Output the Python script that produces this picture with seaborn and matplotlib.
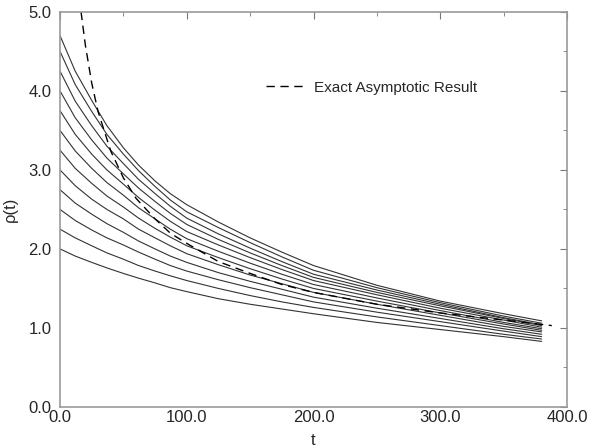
import numpy as np
import pandas as pd
import matplotlib
matplotlib.use('Agg')
import matplotlib.pyplot as plt
import seaborn as sns
from matplotlib.ticker import MultipleLocator, FormatStrFormatter

t_grid = [0, 12, 25, 37, 50, 62, 75, 87, 100, 125, 150, 175, 200, 250, 300, 350, 380]

# one list per solid curve (bottom to top), rho(t)
rho_1 = [2.00, 1.91, 1.83, 1.76, 1.69, 1.63, 1.57, 1.51, 1.46, 1.37, 1.30, 1.24, 1.18, 1.07, 0.98, 0.89, 0.83]
rho_2 = [2.25, 2.14, 2.04, 1.95, 1.87, 1.79, 1.72, 1.66, 1.60, 1.50, 1.41, 1.33, 1.26, 1.14, 1.03, 0.92, 0.86]
rho_3 = [2.50, 2.36, 2.24, 2.14, 2.05, 1.96, 1.87, 1.79, 1.72, 1.61, 1.51, 1.42, 1.33, 1.20, 1.08, 0.96, 0.89]
rho_4 = [2.75, 2.58, 2.44, 2.32, 2.21, 2.10, 2.00, 1.91, 1.83, 1.70, 1.59, 1.49, 1.39, 1.25, 1.12, 0.99, 0.92]
rho_5 = [3.00, 2.80, 2.63, 2.50, 2.38, 2.25, 2.14, 2.04, 1.94, 1.80, 1.67, 1.56, 1.45, 1.30, 1.16, 1.02, 0.95]
rho_6 = [3.25, 3.02, 2.83, 2.67, 2.53, 2.39, 2.26, 2.15, 2.04, 1.89, 1.75, 1.62, 1.50, 1.34, 1.19, 1.05, 0.97]
rho_7 = [3.50, 3.24, 3.02, 2.84, 2.68, 2.52, 2.38, 2.25, 2.13, 1.97, 1.82, 1.68, 1.55, 1.38, 1.22, 1.07, 0.99]
rho_8 = [3.75, 3.45, 3.20, 3.00, 2.82, 2.65, 2.49, 2.35, 2.22, 2.05, 1.89, 1.74, 1.60, 1.42, 1.25, 1.10, 1.01]
rho_9 = [4.00, 3.66, 3.38, 3.15, 2.95, 2.77, 2.60, 2.45, 2.31, 2.12, 1.95, 1.79, 1.64, 1.45, 1.28, 1.12, 1.03]
rho_10 = [4.25, 3.87, 3.56, 3.30, 3.08, 2.88, 2.70, 2.54, 2.39, 2.19, 2.01, 1.84, 1.68, 1.48, 1.30, 1.13, 1.04]
rho_11 = [4.50, 4.08, 3.74, 3.45, 3.20, 2.99, 2.79, 2.62, 2.47, 2.27, 2.08, 1.90, 1.73, 1.51, 1.32, 1.15, 1.06]
rho_12 = [4.70, 4.25, 3.88, 3.56, 3.28, 3.06, 2.86, 2.70, 2.56, 2.34, 2.14, 1.96, 1.79, 1.54, 1.34, 1.18, 1.09]

# exact asymptotic result (dashed)
t_exact = [16.6, 20, 25, 30, 40, 50, 60, 75, 87, 100, 125, 150, 175, 200, 250, 300, 350, 388]
rho_exact = [5.00, 4.58, 4.10, 3.74, 3.24, 2.90, 2.64, 2.38, 2.20, 2.07, 1.84, 1.69, 1.55, 1.45, 1.30, 1.19, 1.10, 1.03]

curves = [rho_1, rho_2, rho_3, rho_4, rho_5, rho_6,
          rho_7, rho_8, rho_9, rho_10, rho_11, rho_12]
df = pd.concat([pd.DataFrame({'t': t_grid, 'rho': c, 'curve': i})
                for i, c in enumerate(curves)], ignore_index=True)
df_exact = pd.DataFrame({'t': t_exact, 'rho': rho_exact})

sns.set_style('white')
plt.rcParams['font.family'] = ['Liberation Sans', 'DejaVu Sans']

fig = plt.figure(figsize=(6, 4.47), dpi=100)
ax = fig.add_axes([0.1, 0.0895, 0.845, 0.884])

sns.lineplot(data=df, x='t', y='rho', units='curve', estimator=None,
             color='#333333', linewidth=0.8, ax=ax, legend=False)
sns.lineplot(data=df_exact, x='t', y='rho', color='black', linewidth=1.0,
             linestyle=(0, (6, 4)), ax=ax, label='Exact Asymptotic Result')

ax.set_xlim(0, 400)
ax.set_ylim(0, 5)
ax.xaxis.set_major_locator(MultipleLocator(100))
ax.xaxis.set_minor_locator(MultipleLocator(50))
ax.yaxis.set_major_locator(MultipleLocator(1))
ax.yaxis.set_minor_locator(MultipleLocator(0.5))
ax.xaxis.set_major_formatter(FormatStrFormatter('%.1f'))
ax.yaxis.set_major_formatter(FormatStrFormatter('%.1f'))
ax.tick_params(which='both', direction='in', top=True, right=True,
               color='#777777', labelsize=12)
ax.tick_params(axis='x', pad=2)
ax.tick_params(axis='y', pad=6)
ax.tick_params(which='major', length=5)
ax.tick_params(which='minor', length=3)
for s in ax.spines.values():
    s.set_color('#999999')
    s.set_linewidth(1.2)

ax.set_xlabel('t', fontsize=12, labelpad=6)
ax.set_ylabel('ρ(t)', fontsize=12, labelpad=8)

ax.legend(frameon=False, loc='center left', bbox_to_anchor=(0.38, 0.808),
          fontsize=11, handlelength=2.6, handletextpad=0.5)

plt.savefig('out.png', dpi=100)
plt.close()
